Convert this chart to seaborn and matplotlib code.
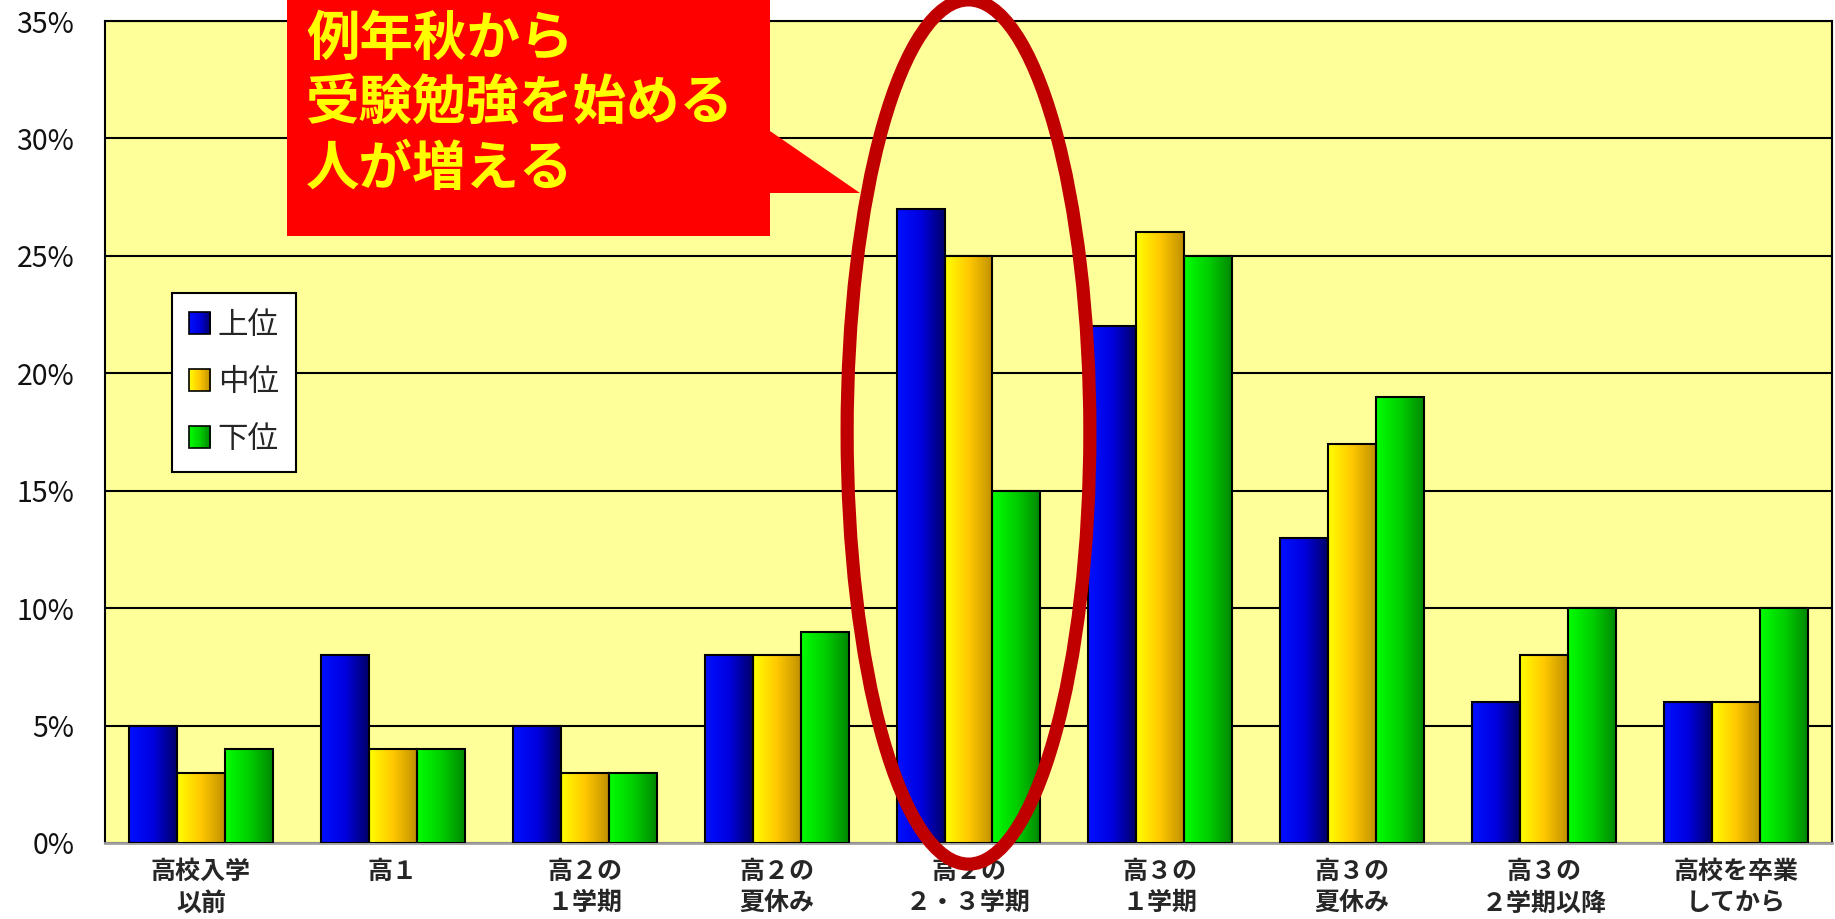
import numpy as np
import pandas as pd
import matplotlib
matplotlib.use("Agg")
import matplotlib.pyplot as plt
import seaborn as sns
from matplotlib.patches import Ellipse, Polygon, Rectangle
from matplotlib.colors import LinearSegmentedColormap
from matplotlib.legend_handler import HandlerBase
from matplotlib.ticker import FuncFormatter

# ---------------- data ----------------
categories = ["高校入学\n以前", "高１", "高２の\n１学期", "高２の\n夏休み", "高２の\n２・３学期",
              "高３の\n１学期", "高３の\n夏休み", "高３の\n２学期以降", "高校を卒業\nしてから"]
series = ["上位", "中位", "下位"]
upper = [5, 8, 5, 8, 27, 22, 13, 6, 6]
middle = [3, 4, 3, 8, 25, 26, 17, 8, 6]
lower = [4, 4, 3, 9, 15, 25, 19, 10, 10]
yticks = [0, 5, 10, 15, 20, 25, 30, 35]
callout_lines = ["例年秋から", "受験勉強を始める", "人が増える"]

rows = []
for s, vals in zip(series, [upper, middle, lower]):
    for c, v in zip(categories, vals):
        rows.append({"cat": c, "series": s, "val": v})
df = pd.DataFrame(rows)

# ---------------- style ----------------
sns.set_theme(style="white")
plt.rcParams["font.family"] = ["Noto Sans CJK JP", "DejaVu Sans"]

cmaps = [
    LinearSegmentedColormap.from_list("b", ["#0010FF", "#0000E0", "#000068"]),
    LinearSegmentedColormap.from_list("y", ["#FFFF00", "#FFC800", "#C09000"]),
    LinearSegmentedColormap.from_list("g", ["#00FF00", "#00D000", "#008800"]),
]
mid_colors = ["#0000C0", "#FFD000", "#00C000"]

W, H = 1835, 919
fig = plt.figure(figsize=(W / 100, H / 100), dpi=100)
ax = fig.add_axes([105 / W, 1 - 843 / H, 1727 / W, 822 / H])
ax.set_facecolor("#FFFF99")

sns.barplot(data=df, x="cat", y="val", hue="series", order=categories, hue_order=series,
            palette=mid_colors, width=0.75, gap=0, edgecolor="black", linewidth=1.5,
            errorbar=None, saturation=1, legend=False, ax=ax)

grad = np.linspace(0, 1, 256).reshape(1, -1)
for cont, cmap in zip(ax.containers, cmaps):
    for bar in cont:
        x0, y0, w, h = bar.get_x(), bar.get_y(), bar.get_width(), bar.get_height()
        bar.set_zorder(3)
        bar.set_facecolor("none")
        im = ax.imshow(grad, extent=[x0, x0 + w, y0, y0 + h], aspect="auto",
                       cmap=cmap, zorder=2.5, interpolation="bilinear")
        im.set_clip_path(bar)

ax.set_xlim(-0.5, len(categories) - 0.5)
ax.set_ylim(0, 35)
ax.set_yticks(yticks)
ax.yaxis.set_major_formatter(FuncFormatter(lambda v, p: f"{int(v)}%"))
ax.set_xticks(range(len(categories)))
ax.set_xticklabels(categories, fontweight="bold", linespacing=1.4)
ax.set_axisbelow(True)
ax.yaxis.grid(True, color="black", linewidth=1.5)
ax.xaxis.grid(False)
ax.set_xlabel("")
ax.set_ylabel("")
ax.tick_params(axis="y", length=0, pad=22, labelsize=20.5, labelcolor="#111111")
ax.tick_params(axis="x", length=0, pad=12, labelsize=18)

for side in ["left", "top", "right"]:
    ax.spines[side].set_color("black")
    ax.spines[side].set_linewidth(1.5)
ax.spines["bottom"].set_color("#A0A0A0")
ax.spines["bottom"].set_linewidth(2)


# ---------------- legend with gradient squares ----------------
class GradHandler(HandlerBase):
    def __init__(self, cmap):
        super().__init__()
        self.cmap = cmap

    def create_artists(self, legend, orig_handle, xdescent, ydescent, width, height,
                       fontsize, trans):
        s = height
        x0, y0 = -xdescent, -ydescent
        n = 16
        arts = []
        for i in range(n):
            arts.append(Rectangle((x0 + i * s / n, y0), s / n + 0.3, s,
                                  facecolor=self.cmap((i + 0.5) / n), edgecolor="none",
                                  transform=trans))
        arts.append(Rectangle((x0, y0), s, s, facecolor="none", edgecolor="black",
                              linewidth=1.2, transform=trans))
        return arts


handles = [Rectangle((0, 0), 1, 1) for _ in series]
leg = ax.legend(handles, series, loc="upper left",
                bbox_to_anchor=((172 - 105) / 1727, (843 - 293) / 822),
                borderaxespad=0, fontsize=22, frameon=True, fancybox=False,
                framealpha=1, facecolor="white", edgecolor="black",
                handlelength=0.7, handleheight=0.7, handletextpad=0.25,
                labelspacing=0.85, borderpad=0.55,
                handler_map={h: GradHandler(c) for h, c in zip(handles, cmaps)})
leg.get_frame().set_linewidth(1.5)
leg.set_zorder(5)

# ---------------- highlight ellipse ----------------
ax.add_patch(Ellipse((4, 17.5), 1.265, 36.8, fill=False, edgecolor="#C00000",
                     linewidth=9.5, zorder=10, clip_on=False))

# ---------------- callout ----------------
pts = [(287, 0), (770, 0), (770, 131), (860, 193), (770, 193), (770, 236), (287, 236)]
poly = Polygon([(x / W, 1 - y / H) for x, y in pts], closed=True, facecolor="#FF0000",
               edgecolor="none", transform=fig.transFigure, zorder=20)
fig.add_artist(poly)
for i, line in enumerate(callout_lines):
    fig.text(306 / W, 1 - (39 + 65 * i) / H, line, color="#FFFF00", fontsize=38.5,
             fontweight="bold", ha="left", va="center", zorder=21)

fig.savefig("out.png", dpi=100)
